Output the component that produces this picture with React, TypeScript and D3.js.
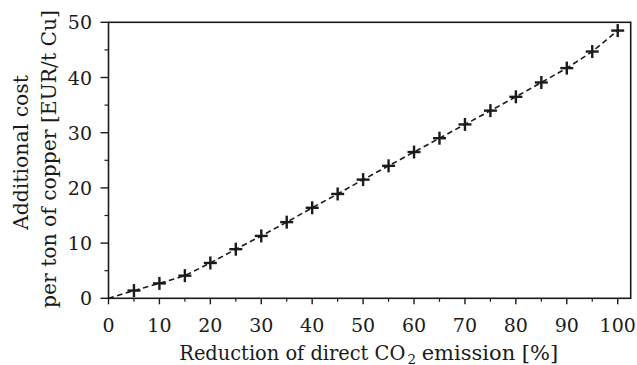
import React from "react";
import * as d3 from "d3";

const reduction = [0, 5, 10, 15, 20, 25, 30, 35, 40, 45, 50, 55, 60, 65, 70, 75, 80, 85, 90, 95, 100];
const cost = [0, 1.4, 2.7, 4.1, 6.4, 8.9, 11.3, 13.8, 16.4, 18.9, 21.5, 24.0, 26.5, 29.0, 31.5, 34.0, 36.5, 39.1, 41.7, 44.7, 48.5];
const xMajor = [0, 10, 20, 30, 40, 50, 60, 70, 80, 90, 100];
const xMinor = [5, 15, 25, 35, 45, 55, 65, 75, 85, 95];
const yMajor = [0, 10, 20, 30, 40, 50];
const yMinor = [5, 15, 25, 35, 45];

const W = 637, H = 365;
const FONT = "DejaVu Serif, serif";

export default function App() {
  const x = d3.scaleLinear().domain([0, 102.55]).range([108.5, 630.7]);
  const y = d3.scaleLinear().domain([0, 50]).range([298.3, 22.3]);
  const pts = reduction.map((r, i) => [r, cost[i]] as [number, number]);
  const line = d3.line<[number, number]>().x(d => x(d[0])).y(d => y(d[1]));
  const ink = "#1a1a1a";
  const left = x(0), bottom = y(0), right = x(102.55), top = y(50);
  return (
    <svg width={W} height={H} style={{ position: "absolute", left: 0, top: 0, display: "block", background: "#fff" }}>
      <rect x={0} y={0} width={W} height={H} fill="#fff" />
      <path d={line(pts) || ""} fill="none" stroke={ink} strokeWidth={1.6} strokeDasharray="5.5,3.5" />
      {pts.slice(1).map((d, i) => (
        <g key={i} transform={`translate(${x(d[0])},${y(d[1])})`}>
          <line x1={-6.5} x2={6.5} y1={0} y2={0} stroke={ink} strokeWidth={2.4} />
          <line x1={0} x2={0} y1={-6.5} y2={6.5} stroke={ink} strokeWidth={2.4} />
        </g>
      ))}
      <rect x={left} y={top} width={right - left} height={bottom - top} fill="none" stroke={ink} strokeWidth={1.6} />
      {xMajor.map(t => (
        <g key={"xM" + t}>
          <line x1={x(t)} x2={x(t)} y1={bottom} y2={bottom + 6} stroke={ink} strokeWidth={1.4} />
          <text x={x(t)} y={332} textAnchor="middle" fontFamily={FONT} fontSize={19} fill={ink}>{t}</text>
        </g>
      ))}
      {xMinor.map(t => (
        <line key={"xm" + t} x1={x(t)} x2={x(t)} y1={bottom} y2={bottom + 3.5} stroke={ink} strokeWidth={1.2} />
      ))}
      {yMajor.map(t => (
        <g key={"yM" + t}>
          <line x1={left - 8} x2={left} y1={y(t)} y2={y(t)} stroke={ink} strokeWidth={1.4} />
          <text x={92} y={y(t) + 7} textAnchor="end" fontFamily={FONT} fontSize={19} fill={ink}>{t}</text>
        </g>
      ))}
      {yMinor.map(t => (
        <line key={"ym" + t} x1={left - 4} x2={left} y1={y(t)} y2={y(t)} stroke={ink} strokeWidth={1.2} />
      ))}
      <text x={179.3} y={359.5} fontFamily={FONT} fontSize={19.5} fill={ink} textLength={226} lengthAdjust="spacingAndGlyphs">Reduction of direct CO</text>
      <text x={407.5} y={363.5} fontFamily={FONT} fontSize={13.5} fill={ink}>2</text>
      <text x={421.7} y={359.5} fontFamily={FONT} fontSize={19.5} fill={ink} textLength={136.5} lengthAdjust="spacingAndGlyphs">emission [%]</text>
      <g transform="translate(28,230) rotate(-90)">
        <text x={0} y={0} fontFamily={FONT} fontSize={20.5} fill={ink} textLength={155} lengthAdjust="spacingAndGlyphs">Additional cost</text>
      </g>
      <g transform="translate(56,308) rotate(-90)">
        <text x={0} y={0} fontFamily={FONT} fontSize={20.5} fill={ink} textLength={298} lengthAdjust="spacingAndGlyphs">per ton of copper [EUR/t Cu]</text>
      </g>
    </svg>
  );
}
